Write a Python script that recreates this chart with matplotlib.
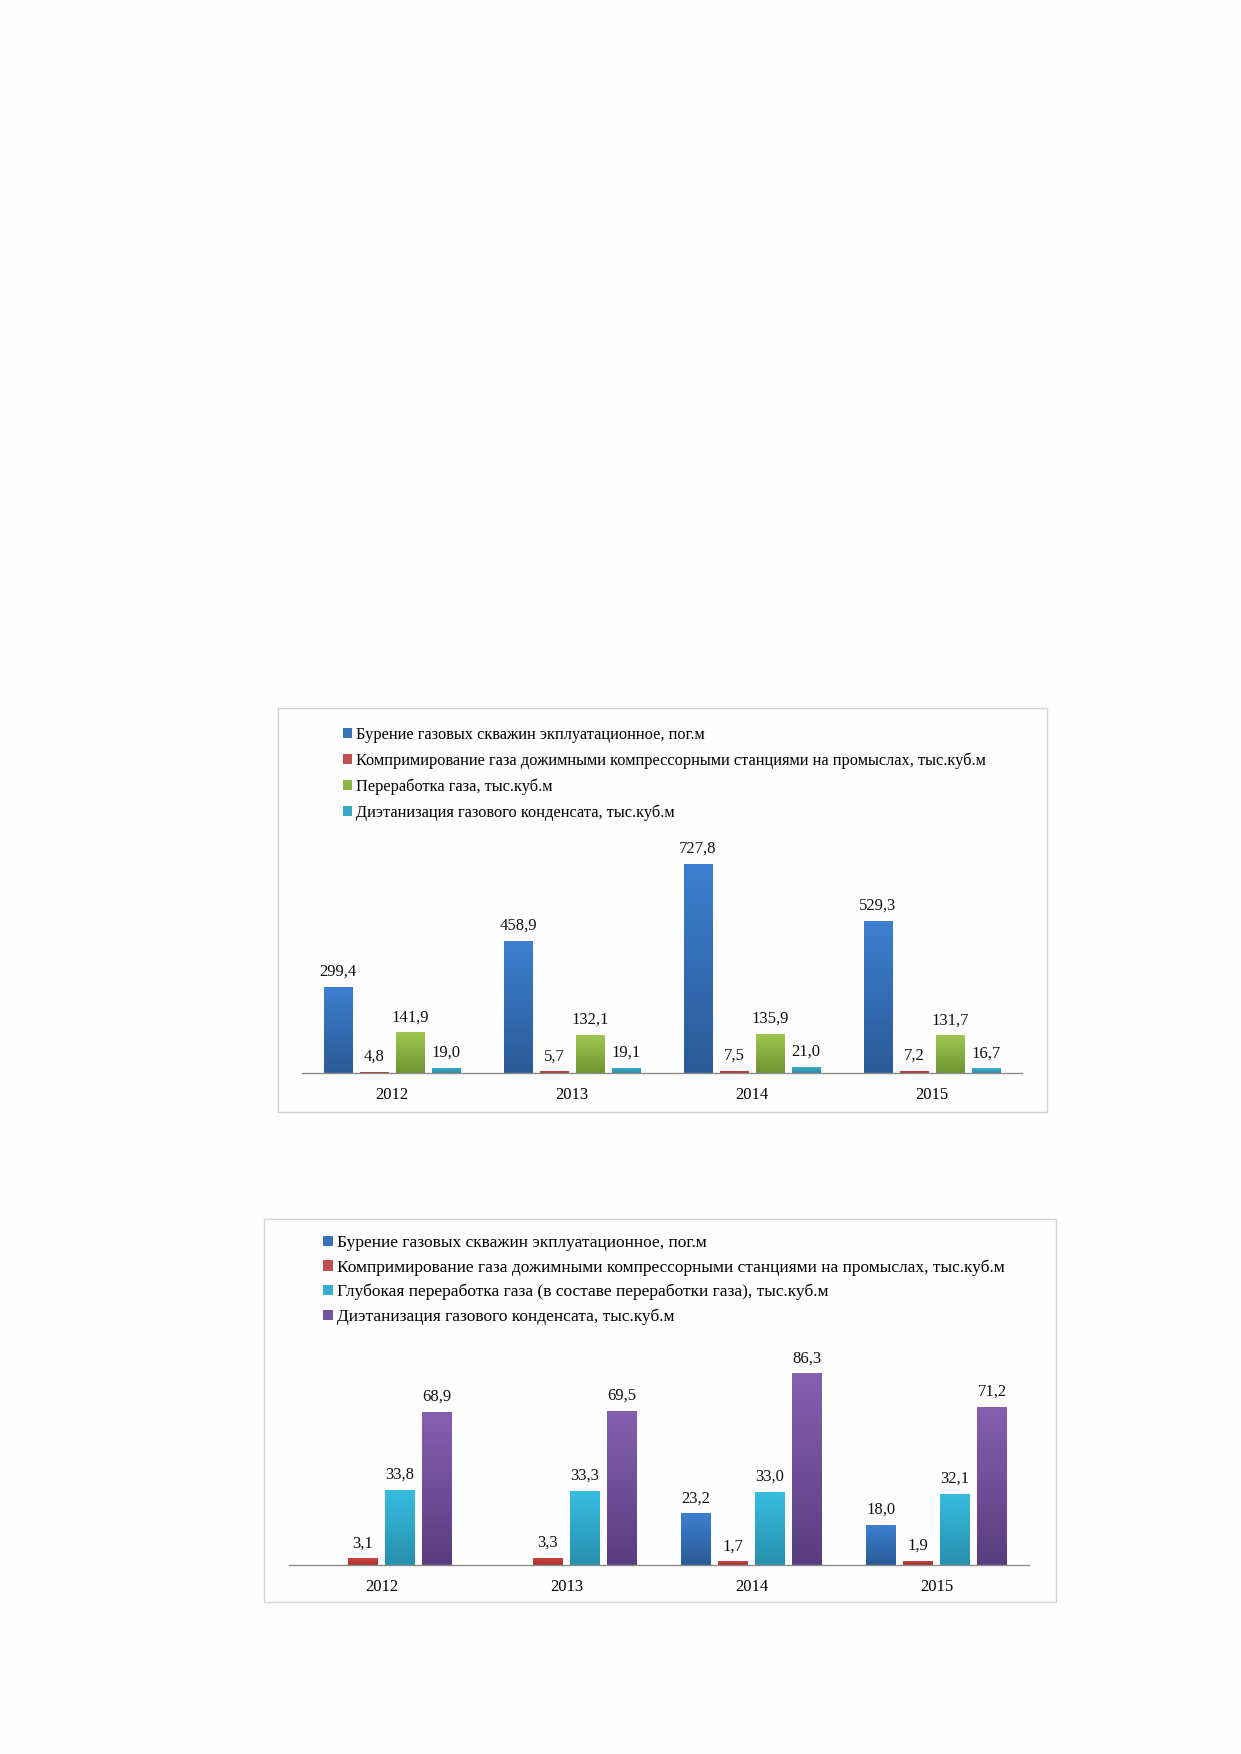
import numpy as np
import matplotlib
matplotlib.use("Agg")
import matplotlib.pyplot as plt
from matplotlib.patches import Rectangle
from matplotlib.colors import LinearSegmentedColormap

plt.rcParams['font.family'] = ['Liberation Serif', 'DejaVu Serif']

years = ["2012", "2013", "2014", "2015"]

labels1 = [
    "Бурение газовых скважин экплуатационное, пог.м",
    "Компримирование газа дожимными компрессорными станциями на промыслах, тыс.куб.м",
    "Переработка газа, тыс.куб.м",
    "Диэтанизация газового конденсата, тыс.куб.м",
]
drill1 = [299.4, 458.9, 727.8, 529.3]
compr1 = [4.8, 5.7, 7.5, 7.2]
proc1 = [141.9, 132.1, 135.9, 131.7]
deeth1 = [19.0, 19.1, 21.0, 16.7]

labels2 = [
    "Бурение газовых скважин экплуатационное, пог.м",
    "Компримирование газа дожимными компрессорными станциями на промыслах, тыс.куб.м",
    "Глубокая переработка газа (в составе переработки газа), тыс.куб.м",
    "Диэтанизация газового конденсата, тыс.куб.м",
]
drill2 = [np.nan, np.nan, 23.2, 18.0]
compr2 = [3.1, 3.3, 1.7, 1.9]
deep2 = [33.8, 33.3, 33.0, 32.1]
deeth2 = [68.9, 69.5, 86.3, 71.2]

# (top colour, bottom colour, legend colour)
BLUE = ("#3d7fd0", "#2b5b97", "#3a72b8")
RED = ("#d0453f", "#a8302c", "#c0504d")
GREEN = ("#9fc74f", "#6f9433", "#8db548")
CYAN = ("#3fb4d2", "#2a8aa3", "#3aa6c4")
CYAN2 = ("#37bde0", "#2790ad", "#33acd0")
PURPLE = ("#8560b0", "#5a3d80", "#7453a0")

W, H = 1241, 1754
fig = plt.figure(figsize=(W / 100, H / 100), dpi=100)
fig.patch.set_facecolor("#fefefe")


def fx(px):
    return px / W


def fy(py):
    return 1 - py / H


def gradient_bar(ax, rect, top, bottom):
    if not np.isfinite(rect.get_height()) or rect.get_height() <= 0:
        return
    cmap = LinearSegmentedColormap.from_list("g", [bottom, top])
    x0 = rect.get_x()
    x1 = x0 + rect.get_width()
    y0 = rect.get_y()
    y1 = y0 + rect.get_height()
    grad = np.linspace(0, 1, 64).reshape(-1, 1)
    im = ax.imshow(grad, cmap=cmap, aspect="auto", origin="lower",
                   extent=(x0, x1, y0, y1), zorder=3, interpolation="bilinear")
    im.set_clip_path(rect)


def make_chart(box, axes_px, ytop, series, labels, colors, legend_xy, lspace,
               fs=12, lfs=11.8):
    bx0, by0, bx1, by1 = box
    fig.patches.append(Rectangle((fx(bx0), fy(by1)), fx(bx1 - bx0), (by1 - by0) / H,
                                 transform=fig.transFigure, fill=False,
                                 edgecolor="#d4d4d4", lw=1.0, zorder=0))
    ax_l, ax_r, ax_base, ax_top = axes_px
    ax = fig.add_axes([fx(ax_l), fy(ax_base), fx(ax_r - ax_l), (ax_base - ax_top) / H])
    ax.set_facecolor("none")
    x = np.arange(len(years))
    n = len(series)
    slot = 0.2
    width = 0.16
    handles = []
    for i, (vals, col) in enumerate(zip(series, colors)):
        offs = (i - (n - 1) / 2) * slot
        bars = ax.bar(x + offs, vals, width, color=col[2], edgecolor="none", zorder=2)
        handles.append(bars)
        for rect, v in zip(bars, vals):
            gradient_bar(ax, rect, col[0], col[1])
            if np.isfinite(v):
                ax.annotate(f"{v:.1f}".replace(".", ","),
                            (rect.get_x() + rect.get_width() / 2, v),
                            xytext=(0, 5), textcoords="offset points",
                            ha="center", va="bottom", fontsize=fs, color="#111111")
    ax.set_xlim(-0.5, len(years) - 0.5)
    ax.set_ylim(0, ytop)
    ax.set_xticks(x)
    ax.set_xticklabels(years, fontsize=fs)
    ax.tick_params(axis="x", length=0, pad=10)
    ax.set_yticks([])
    for s in ["top", "right", "left"]:
        ax.spines[s].set_visible(False)
    ax.spines["bottom"].set_color("#8c8c8c")
    ax.spines["bottom"].set_linewidth(1.0)
    ax.spines["bottom"].set_zorder(5)
    fig.legend(handles, labels, loc="upper left",
               bbox_to_anchor=(fx(legend_xy[0]), fy(legend_xy[1])),
               bbox_transform=fig.transFigure, frameon=False, fontsize=lfs,
               handlelength=0.55, handleheight=0.55, handletextpad=0.25,
               labelspacing=lspace, borderaxespad=0, borderpad=0)
    return ax


scale1 = 0.2875
base1 = 1073
top1 = 845
make_chart((278, 708, 1047, 1112), (302, 1022, base1, top1), (base1 - top1) / scale1,
           [drill1, compr1, proc1, deeth1], labels1, [BLUE, RED, GREEN, CYAN],
           (343, 727), 0.58)

scale2 = 2.22
base2 = 1565
top2 = 1345
make_chart((264, 1219, 1056, 1602), (289, 1029, base2, top2), (base2 - top2) / scale2,
           [drill2, compr2, deep2, deeth2], labels2, [BLUE, RED, CYAN2, PURPLE],
           (323, 1235), 0.47, lfs=12.5)

fig.savefig("out.png", dpi=100, facecolor=fig.get_facecolor())
